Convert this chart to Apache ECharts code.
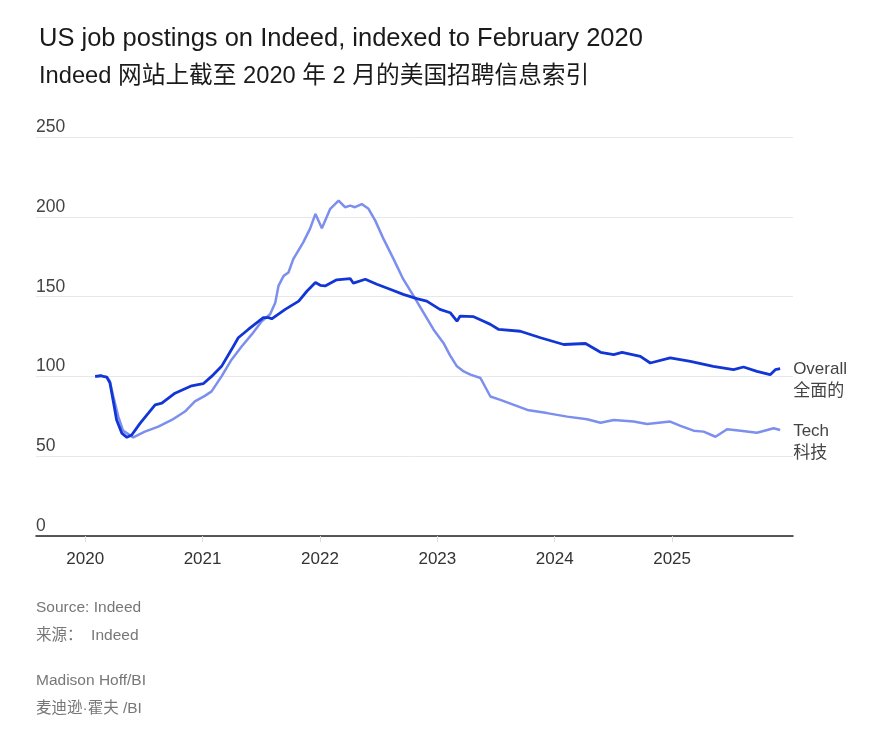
<!DOCTYPE html>
<html>
<head>
<meta charset="utf-8">
<script src="https://cdn.jsdelivr.net/npm/echarts@6/dist/echarts.min.js"></script>
<style>
html,body{margin:0;padding:0;background:#fff;}
#chart{width:870px;height:745px;}
</style>
</head>
<body>
<div id="chart"></div>
<script>
const overallDates = ['2020-02-01','2020-02-20','2020-03-01','2020-03-08','2020-03-18','2020-03-28','2020-04-08','2020-04-24','2020-05-10','2020-05-25','2020-06-20','2020-07-16','2020-08-06','2020-08-27','2020-10-07','2020-11-28','2021-01-03','2021-01-29','2021-03-01','2021-04-01','2021-04-22','2021-05-23','2021-07-09','2021-07-25','2021-08-04','2021-09-15','2021-10-27','2021-11-22','2021-12-18','2022-01-02','2022-01-17','2022-02-22','2022-04-05','2022-04-15','2022-05-22','2022-06-27','2022-08-07','2022-09-17','2022-10-29','2022-11-29','2023-01-09','2023-02-10','2023-03-03','2023-03-13','2023-04-24','2023-05-25','2023-06-15','2023-07-11','2023-09-16','2023-11-18','2024-01-29','2024-04-06','2024-05-23','2024-07-03','2024-07-29','2024-09-24','2024-10-25','2024-12-26','2025-02-27','2025-05-09','2025-07-11','2025-08-11','2025-09-22','2025-11-02','2025-11-18','2025-12-03'];
const overallValues = [100,100.4,99.8,99.6,96,85,72.7,64.5,61.8,63.3,70.6,77,82.2,83.2,89.5,94.1,95.4,100,106.3,116.8,124.2,129.4,136.8,136.8,136.1,142,147.2,153.5,158.8,157.1,156.7,160.5,161.3,158.4,160.9,157.7,154.6,151.4,148.7,147.2,142,139.9,134.6,137.8,137.4,134.6,132.6,129.4,128.3,124.2,120,120.6,115.1,113.7,115.1,112.6,108.4,111.6,109.4,106.3,104.2,105.9,103.1,101.1,104.2,104.8];

const techDates = ['2020-02-01','2020-02-20','2020-03-01','2020-03-08','2020-03-18','2020-03-28','2020-04-13','2020-04-28','2020-05-30','2020-07-05','2020-08-16','2020-09-27','2020-11-07','2020-12-08','2021-01-08','2021-01-29','2021-03-01','2021-04-01','2021-05-03','2021-06-03','2021-07-04','2021-07-30','2021-08-15','2021-08-25','2021-09-10','2021-09-25','2021-10-10','2021-11-10','2021-12-01','2021-12-18','2022-01-07','2022-02-02','2022-02-28','2022-03-20','2022-04-05','2022-04-20','2022-05-11','2022-06-01','2022-06-22','2022-07-18','2022-08-18','2022-09-17','2022-10-19','2022-11-19','2022-12-20','2023-01-20','2023-02-10','2023-03-03','2023-03-24','2023-04-14','2023-05-15','2023-06-15','2023-07-16','2023-08-27','2023-10-08','2023-12-08','2024-02-09','2024-04-11','2024-05-23','2024-07-03','2024-09-03','2024-10-15','2024-12-26','2025-01-27','2025-03-09','2025-04-09','2025-05-16','2025-06-21','2025-08-02','2025-09-22','2025-11-13','2025-12-03'];
const techValues = [100,100.4,99.8,99.6,97,88,75,66,61.8,65.4,68.5,72.7,78,84.3,87.8,90.6,100,110.5,118.9,126.3,134.6,138.9,146.2,156.7,163,165.1,173.5,184,192.4,201.8,192.8,205,210.2,206,207,206,208,205,197.6,186,173.5,160.9,150.4,139.9,129.4,121,113,106.3,103.1,101.1,99,87.4,85.3,82.2,79,77,74.8,73.2,71,72.7,71.7,70.2,71.7,69,66,65.4,62.2,66.9,66,64.7,67.5,66.4];

const yearTicks = [2020,2021,2022,2023,2024,2025];
const seriesNames = ['Overall','Tech'];
const seriesNamesZh = ['全面的','科技'];

const titleEn = 'US job postings on Indeed, indexed to February 2020';
const titleZh = 'Indeed 网站上截至 2020 年 2 月的美国招聘信息索引';
const footer = ['Source: Indeed','来源：  Indeed','Madison Hoff/BI','麦迪逊·霍夫 /BI'];

// date string -> fractional year
function toYear(s){
  const p = s.split('-').map(Number);
  const start = Date.UTC(p[0],0,1), end = Date.UTC(p[0]+1,0,1);
  return p[0] + (Date.UTC(p[0],p[1]-1,p[2]) - start)/(end-start);
}
const overallData = overallDates.map((d,i)=>[toYear(d), overallValues[i]]);
const techData = techDates.map((d,i)=>[toYear(d), techValues[i]]);

const FONT = '"Liberation Sans", "Noto Sans CJK SC", sans-serif';

const chart = echarts.init(document.getElementById('chart'));
chart.setOption({
  backgroundColor:'#fff',
  animation:false,
  textStyle:{fontFamily:FONT},
  title:[
    {text:titleEn,left:34,top:21,textStyle:{fontSize:25.5,fontWeight:'normal',color:'#1a1a1a',fontFamily:FONT}},
    {text:titleZh,left:34,top:60,textStyle:{fontSize:23.7,fontWeight:'normal',color:'#1a1a1a',fontFamily:FONT}}
  ],
  grid:{left:36,right:77,top:137,bottom:209,containLabel:false},
  xAxis:{
    type:'value',
    min:toYear('2019-08-01'),
    max:toYear('2026-01-12'),
    axisLine:{show:true,onZero:false,lineStyle:{color:'#222',width:1.5}},
    axisTick:{show:true,customValues:yearTicks,length:6,lineStyle:{color:'#ddd',width:1}},
    axisLabel:{customValues:yearTicks,formatter:v=>String(Math.round(v)),fontSize:17,color:'#333',margin:15,fontFamily:FONT},
    splitLine:{show:false}
  },
  yAxis:{
    type:'value',min:0,max:250,interval:50,
    axisLine:{show:false},axisTick:{show:false},
    axisLabel:{inside:true,margin:0,verticalAlign:'bottom',padding:[0,0,1,0],fontSize:17.5,color:'#444',fontFamily:FONT},
    splitLine:{lineStyle:{color:'#e8e8e8',width:1}}
  },
  series:[
    {name:seriesNames[1],type:'line',data:techData,showSymbol:false,smooth:false,
     lineStyle:{color:'#7c8eee',width:2.5},itemStyle:{color:'#7c8eee'},z:2,
     endLabel:{show:true,formatter:seriesNames[1]+'\n'+seriesNamesZh[1],distance:13,offset:[0,12],lineHeight:22,fontSize:17,color:'#444',align:'left',fontFamily:FONT}},
    {name:seriesNames[0],type:'line',data:overallData,showSymbol:false,smooth:false,
     lineStyle:{color:'#1236d6',width:2.8},itemStyle:{color:'#1236d6'},z:3,
     endLabel:{show:true,formatter:seriesNames[0]+'\n'+seriesNamesZh[0],distance:13,offset:[0,12],lineHeight:22,fontSize:17,color:'#444',align:'left',fontFamily:FONT}}
  ],
  graphic:[
    {type:'text',left:36,top:600,style:{text:footer[0],fontSize:15.5,fill:'#777',fontFamily:FONT}},
    {type:'text',left:36,top:628,style:{text:footer[1],fontSize:15.5,fill:'#777',fontFamily:FONT}},
    {type:'text',left:36,top:673,style:{text:footer[2],fontSize:15.5,fill:'#777',fontFamily:FONT}},
    {type:'text',left:36,top:701,style:{text:footer[3],fontSize:15.5,fill:'#777',fontFamily:FONT}}
  ]
});
</script>
</body>
</html>
